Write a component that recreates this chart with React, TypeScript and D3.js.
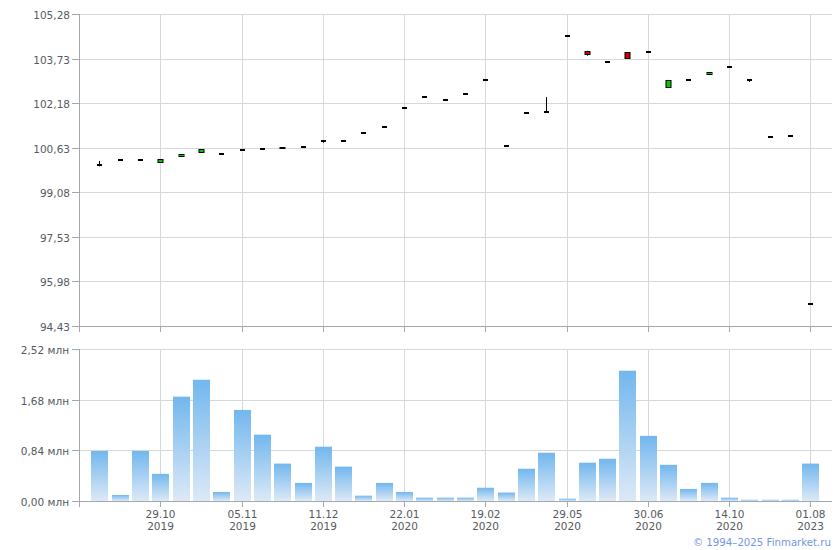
import React from "react";
import * as d3 from "d3";

const openP = [100.03, 100.20, 100.20, 100.08, 100.29, 100.43, 100.41, 100.55, 100.58, 100.58, 100.65, 100.85, 100.86, 101.14, 101.35, 102.01, 102.39, 102.29, 102.50, 102.98, 100.69, 101.83, 101.91, 104.51, 104.00, 103.61, 103.96, 103.96, 102.69, 102.98, 103.16, 103.44, 102.98, 101.00, 101.03, 95.19];
const closeP = [100.03, 100.20, 100.20, 100.23, 100.41, 100.58, 100.41, 100.55, 100.58, 100.65, 100.65, 100.85, 100.86, 101.14, 101.35, 102.01, 102.39, 102.29, 102.50, 102.98, 100.69, 101.83, 101.86, 104.51, 103.87, 103.61, 103.70, 103.96, 102.98, 102.98, 103.26, 103.44, 102.98, 101.00, 101.03, 95.19];
const highP = [100.17, 100.20, 100.20, 100.23, 100.41, 100.58, 100.41, 100.55, 100.58, 100.65, 100.65, 100.85, 100.86, 101.14, 101.35, 102.01, 102.39, 102.29, 102.50, 102.98, 100.69, 101.83, 102.39, 104.51, 104.00, 103.61, 103.96, 103.96, 102.98, 102.98, 103.26, 103.44, 102.98, 101.00, 101.03, 95.19];
const lowP = [99.98, 100.20, 100.20, 100.08, 100.29, 100.43, 100.41, 100.55, 100.58, 100.58, 100.65, 100.80, 100.86, 101.14, 101.35, 102.01, 102.39, 102.29, 102.50, 102.98, 100.69, 101.83, 101.86, 104.51, 103.83, 103.61, 103.70, 103.96, 102.69, 102.98, 103.16, 103.44, 102.92, 101.00, 101.03, 95.19];
const volume = [0.83, 0.10, 0.83, 0.45, 1.73, 2.01, 0.15, 1.51, 1.10, 0.62, 0.30, 0.90, 0.57, 0.088, 0.30, 0.15, 0.055, 0.055, 0.055, 0.22, 0.14, 0.535, 0.80, 0.038, 0.635, 0.70, 2.16, 1.08, 0.60, 0.20, 0.30, 0.055, 0.02, 0.02, 0.02, 0.62];
const priceTicks = [94.43, 95.98, 97.53, 99.08, 100.63, 102.18, 103.73, 105.28];
const volTicks = [0, 0.84, 1.68, 2.52];
const xTickIdx = [3, 7, 11, 15, 19, 23, 27, 31, 35];
const xTickDay = ["29.10", "05.11", "11.12", "22.01", "19.02", "29.05", "30.06", "14.10", "01.08"];
const xTickYear = ["2019", "2019", "2019", "2020", "2020", "2020", "2020", "2020", "2023"];

const FONT = "Tahoma, 'DejaVu Sans', sans-serif";
const FS = 10.5;
const LEFT = 79.5;
const RIGHT = 832;
const gridC = "#d3d8dd";
const axisC = "#a3a7ae";
const textC = "#555a60";

export default function App() {
  const x = d3.scaleLinear().domain([-1, 36]).range([79.1, 79.1 + 37 * 20.31]);
  const yP = d3.scaleLinear().domain([94.43, 105.28]).range([326, 14]);
  const yV = d3.scaleLinear().domain([0, 2.52]).range([501, 349]);
  const fmt = (v: number) => d3.format(".2f")(v).replace(".", ",");
  const cx = (i: number) => Math.round(x(i)) + 0.5;

  return (
    <svg width={840} height={550} style={{ position: "absolute", left: 0, top: 0, background: "#fff" }} fontFamily={FONT}>
      <defs>
        <linearGradient id="vg" x1="0" y1="0" x2="0" y2="1">
          <stop offset="0%" stopColor="#72b7ee" />
          <stop offset="100%" stopColor="#dde9f6" />
        </linearGradient>
      </defs>
      {priceTicks.map((t) => {
        const y = Math.round(yP(t)) + 0.5;
        return (
          <g key={"p" + t}>
            <line x1={LEFT} x2={RIGHT} y1={y} y2={y} stroke={t === 94.43 ? axisC : gridC} />
            <line x1={72} x2={LEFT} y1={y} y2={y} stroke={axisC} />
            <text x={70} y={y + 4} textAnchor="end" fontSize={FS} fill={textC}>{fmt(t)}</text>
          </g>
        );
      })}
      {volTicks.map((t) => {
        const y = Math.round(yV(t)) + 0.5;
        return (
          <g key={"v" + t}>
            <line x1={LEFT} x2={RIGHT} y1={y} y2={y} stroke={t === 0 ? axisC : gridC} />
            <line x1={72} x2={LEFT} y1={y} y2={y} stroke={axisC} />
            <text x={69} y={y + 4} textAnchor="end" fontSize={FS} fill={textC}>{fmt(t) + " млн"}</text>
          </g>
        );
      })}
      {xTickIdx.map((i) => {
        const xx = cx(i);
        return (
          <g key={"x" + i}>
            <line x1={xx} x2={xx} y1={14} y2={326} stroke={gridC} />
            <line x1={xx} x2={xx} y1={326} y2={332} stroke={axisC} />
            <line x1={xx} x2={xx} y1={349} y2={501} stroke={gridC} />
            <line x1={xx} x2={xx} y1={501} y2={507} stroke={axisC} />
          </g>
        );
      })}
      <line x1={LEFT} x2={LEFT} y1={14} y2={332} stroke={axisC} />
      <line x1={LEFT} x2={LEFT} y1={349} y2={507} stroke={axisC} />
      {volume.map((v, i) => (
        <rect key={"b" + i} x={Math.round(x(i)) - 8} width={17} y={yV(v)} height={yV(0) - yV(v)} fill="url(#vg)" />
      ))}
      {openP.map((o, i) => {
        const c = closeP[i];
        const xx = cx(i);
        const hi = yP(highP[i]);
        const lo = yP(lowP[i]);
        const top = yP(Math.max(o, c));
        const bot = yP(Math.min(o, c));
        const h = bot - top;
        const col = c > o ? "#00c800" : "#d00000";
        return (
          <g key={"c" + i}>
            {(hi < top - 0.5 || lo > bot + 0.5) && (
              <line x1={xx} x2={xx} y1={hi} y2={lo} stroke="#000" strokeWidth={1} />
            )}
            {h < 2 ? (
              <rect x={xx - 2.5} width={5} y={Math.round((top + bot) / 2) - 1} height={2} fill="#000" />
            ) : (
              <rect x={xx - 2.5} width={5} y={Math.round(top) + 0.5} height={Math.max(1, Math.round(h) - 1)} fill={col} stroke="#000" strokeWidth={1} />
            )}
          </g>
        );
      })}
      {xTickIdx.map((i, k) => (
        <g key={"l" + i}>
          <text x={cx(i)} y={518} textAnchor="middle" fontSize={FS} fill={textC}>{xTickDay[k]}</text>
          <text x={cx(i)} y={530} textAnchor="middle" fontSize={FS} fill={textC}>{xTickYear[k]}</text>
        </g>
      ))}
      <text x={831} y={546} textAnchor="end" fontSize={10.2} fill="#7296e4">© 1994–2025 Finmarket.ru</text>
    </svg>
  );
}
